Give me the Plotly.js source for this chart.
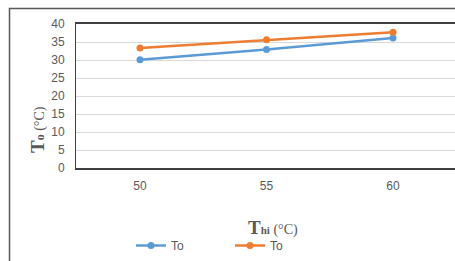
<!DOCTYPE html>
<html><head><meta charset="utf-8">
<script src="https://cdn.plot.ly/plotly-3.0.1.min.js"></script>
<style>html,body{margin:0;padding:0;background:#fff;}#c{width:455px;height:261px;}</style>
</head><body><div id="c"></div>
<script>
var thi = [50, 55, 60];
var toBlue = [30.1, 32.9, 36.1];
var toOrange = [33.3, 35.6, 37.7];
var seriesNames = ['To', 'To'];
var yTicks = [0, 5, 10, 15, 20, 25, 30, 35, 40];

var W = 455, H = 261, L = 76, T = 24, B = 93, R = 0;
var pw = W - L - R, ph = H - T - B;
function px(x){ return (x - L) / pw; }
function py(y){ return (H - B - y) / ph; }

var traces = [
  {x: thi, y: toBlue, name: seriesNames[0], type: 'scatter', mode: 'lines+markers',
   line: {color: '#5B9BD5', width: 2.5}, marker: {color: '#5B9BD5', size: 7}},
  {x: thi, y: toOrange, name: seriesNames[1], type: 'scatter', mode: 'lines+markers',
   line: {color: '#ED7D31', width: 2.5}, marker: {color: '#ED7D31', size: 7}}
];

var layout = {
  width: W, height: H,
  margin: {l: L, r: R, t: T, b: B, pad: 0, autoexpand: false},
  paper_bgcolor: '#ffffff', plot_bgcolor: '#ffffff',
  font: {family: 'Liberation Sans, Arial, sans-serif', size: 12, color: '#595959'},
  showlegend: true,
  legend: {orientation: 'h', x: px(131), y: py(231), xanchor: 'left', yanchor: 'top',
    itemwidth: 30, entrywidth: 54, entrywidthmode: 'pixels', tracegroupgap: 0,
    font: {size: 12, color: '#595959'}, bgcolor: 'rgba(0,0,0,0)'},
  xaxis: {range: [47.47, 62.45], tickvals: thi, ticktext: thi.map(String),
    showgrid: false, zeroline: false, showline: true, linecolor: '#404040', linewidth: 2,
    mirror: true, ticks: 'outside', ticklen: 6, tickcolor: 'rgba(0,0,0,0)', tickfont: {size: 12, color: '#595959'}},
  yaxis: {range: [0, 40], tickvals: yTicks, showgrid: true, gridcolor: '#d9d9d9', gridwidth: 1,
    zeroline: false, showline: true, linecolor: '#404040', linewidth: 1, mirror: true,
    ticks: 'outside', ticklen: 8, tickcolor: 'rgba(0,0,0,0)', tickfont: {size: 12, color: '#595959'}},
  shapes: [
    {type: 'rect', xref: 'paper', yref: 'paper', x0: px(9.5), x1: px(470), y0: py(275), y1: py(8.5),
     line: {color: '#595959', width: 1.5}, fillcolor: 'rgba(0,0,0,0)', layer: 'below'}
  ],
  annotations: [
    {xref: 'paper', yref: 'paper', x: px(273), y: py(227), xanchor: 'center', yanchor: 'middle', showarrow: false,
     font: {family: 'Liberation Serif, Times New Roman, serif', color: '#595959', size: 14},
     text: "<span style='font-size:19px;font-weight:bold'>T</span><span style='font-size:11px;font-weight:bold'>hi</span><span style='font-size:14px'> (°C)</span>"},
    {xref: 'paper', yref: 'paper', x: px(37), y: py(130), xanchor: 'center', yanchor: 'middle', showarrow: false, textangle: -90,
     font: {family: 'Liberation Serif, Times New Roman, serif', color: '#595959', size: 14},
     text: "<span style='font-size:19px;font-weight:bold'>T</span><span style='font-size:12px;font-weight:bold'>o</span><span style='font-size:14px'> (°C)</span>"}
  ]
};

Plotly.newPlot('c', traces, layout, {displayModeBar: false, staticPlot: true});
</script></body></html>
